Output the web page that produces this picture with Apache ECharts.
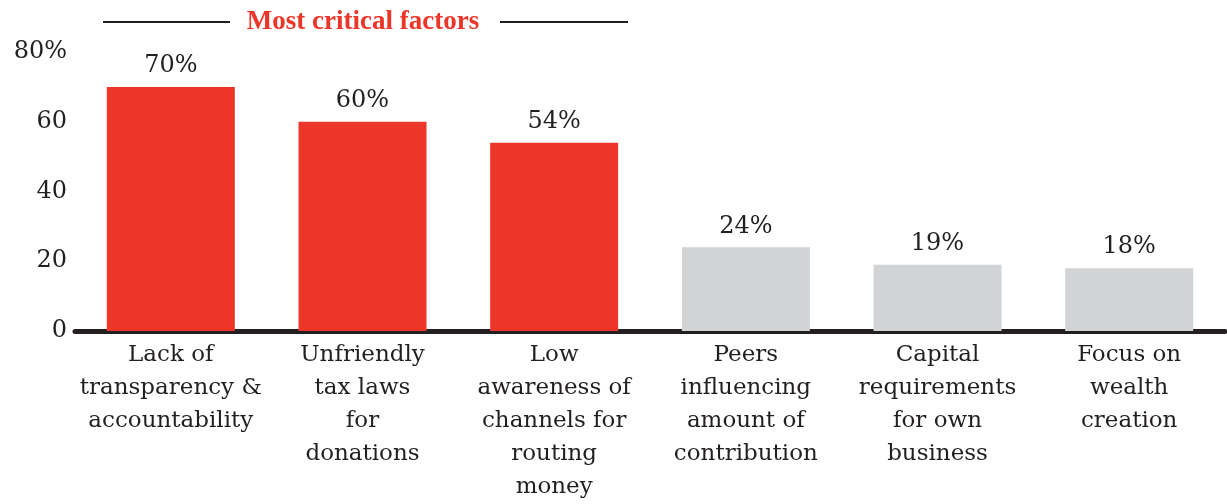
<!DOCTYPE html>
<html><head><meta charset="utf-8">
<script src="https://cdn.jsdelivr.net/npm/echarts@6/dist/echarts.min.js"></script>
<style>html,body{margin:0;padding:0;background:#fff}#c{width:1227px;height:504px}</style>
</head><body><div id="c"></div>
<script>
const categories = ["Lack of\ntransparency &\naccountability","Unfriendly\ntax laws\nfor\ndonations","Low\nawareness of\nchannels for\nrouting\nmoney","Peers\ninfluencing\namount of\ncontribution","Capital\nrequirements\nfor own\nbusiness","Focus on\nwealth\ncreation"];
const values = [70, 60, 54, 24, 19, 18];
const critical = [true, true, true, false, false, false];
const yTicks = [0, 20, 40, 60, 80];
const titleText = "Most critical factors";

const RED = "#EC3629", GRAY = "#D2D3D5", INK = "#231F20";
const FONT = "DejaVu Serif";
const chart = echarts.init(document.getElementById('c'));
chart.setOption({
  animation: false,
  grid: {left: 75, right: 2, top: 52, bottom: 171},
  xAxis: {
    type: 'category', data: categories,
    axisLine: {lineStyle: {color: INK, width: 5}},
    axisTick: {show: false},
    axisLabel: {color: INK, fontFamily: FONT, fontSize: 23, lineHeight: 33, margin: 8, interval: 0}
  },
  yAxis: {
    type: 'value', min: 0, max: 80, interval: 20,
    splitLine: {show: false}, axisLine: {show: false}, axisTick: {show: false},
    axisLabel: {color: INK, fontFamily: FONT, fontSize: 24, margin: 8,
      formatter: v => (v === yTicks[yTicks.length-1] ? v + '%' : String(v))}
  },
  graphic: [
    {type: 'line', shape: {x1: 103, y1: 22, x2: 230, y2: 22}, style: {stroke: INK, lineWidth: 2}},
    {type: 'line', shape: {x1: 500, y1: 22, x2: 628, y2: 22}, style: {stroke: INK, lineWidth: 2}},
    {type: 'text', x: 363, y: 22, style: {text: titleText, fill: RED, font: 'bold 27px "Liberation Serif"', align: 'center', verticalAlign: 'middle'}}
  ],
  series: [{
    type: 'bar', barWidth: 128,
    data: values.map((v, i) => ({value: v, itemStyle: {color: critical[i] ? RED : GRAY}})),
    label: {show: true, position: 'top', distance: 9, color: INK, fontFamily: FONT, fontSize: 24, formatter: p => p.value + '%'}
  }]
});
</script></body></html>
